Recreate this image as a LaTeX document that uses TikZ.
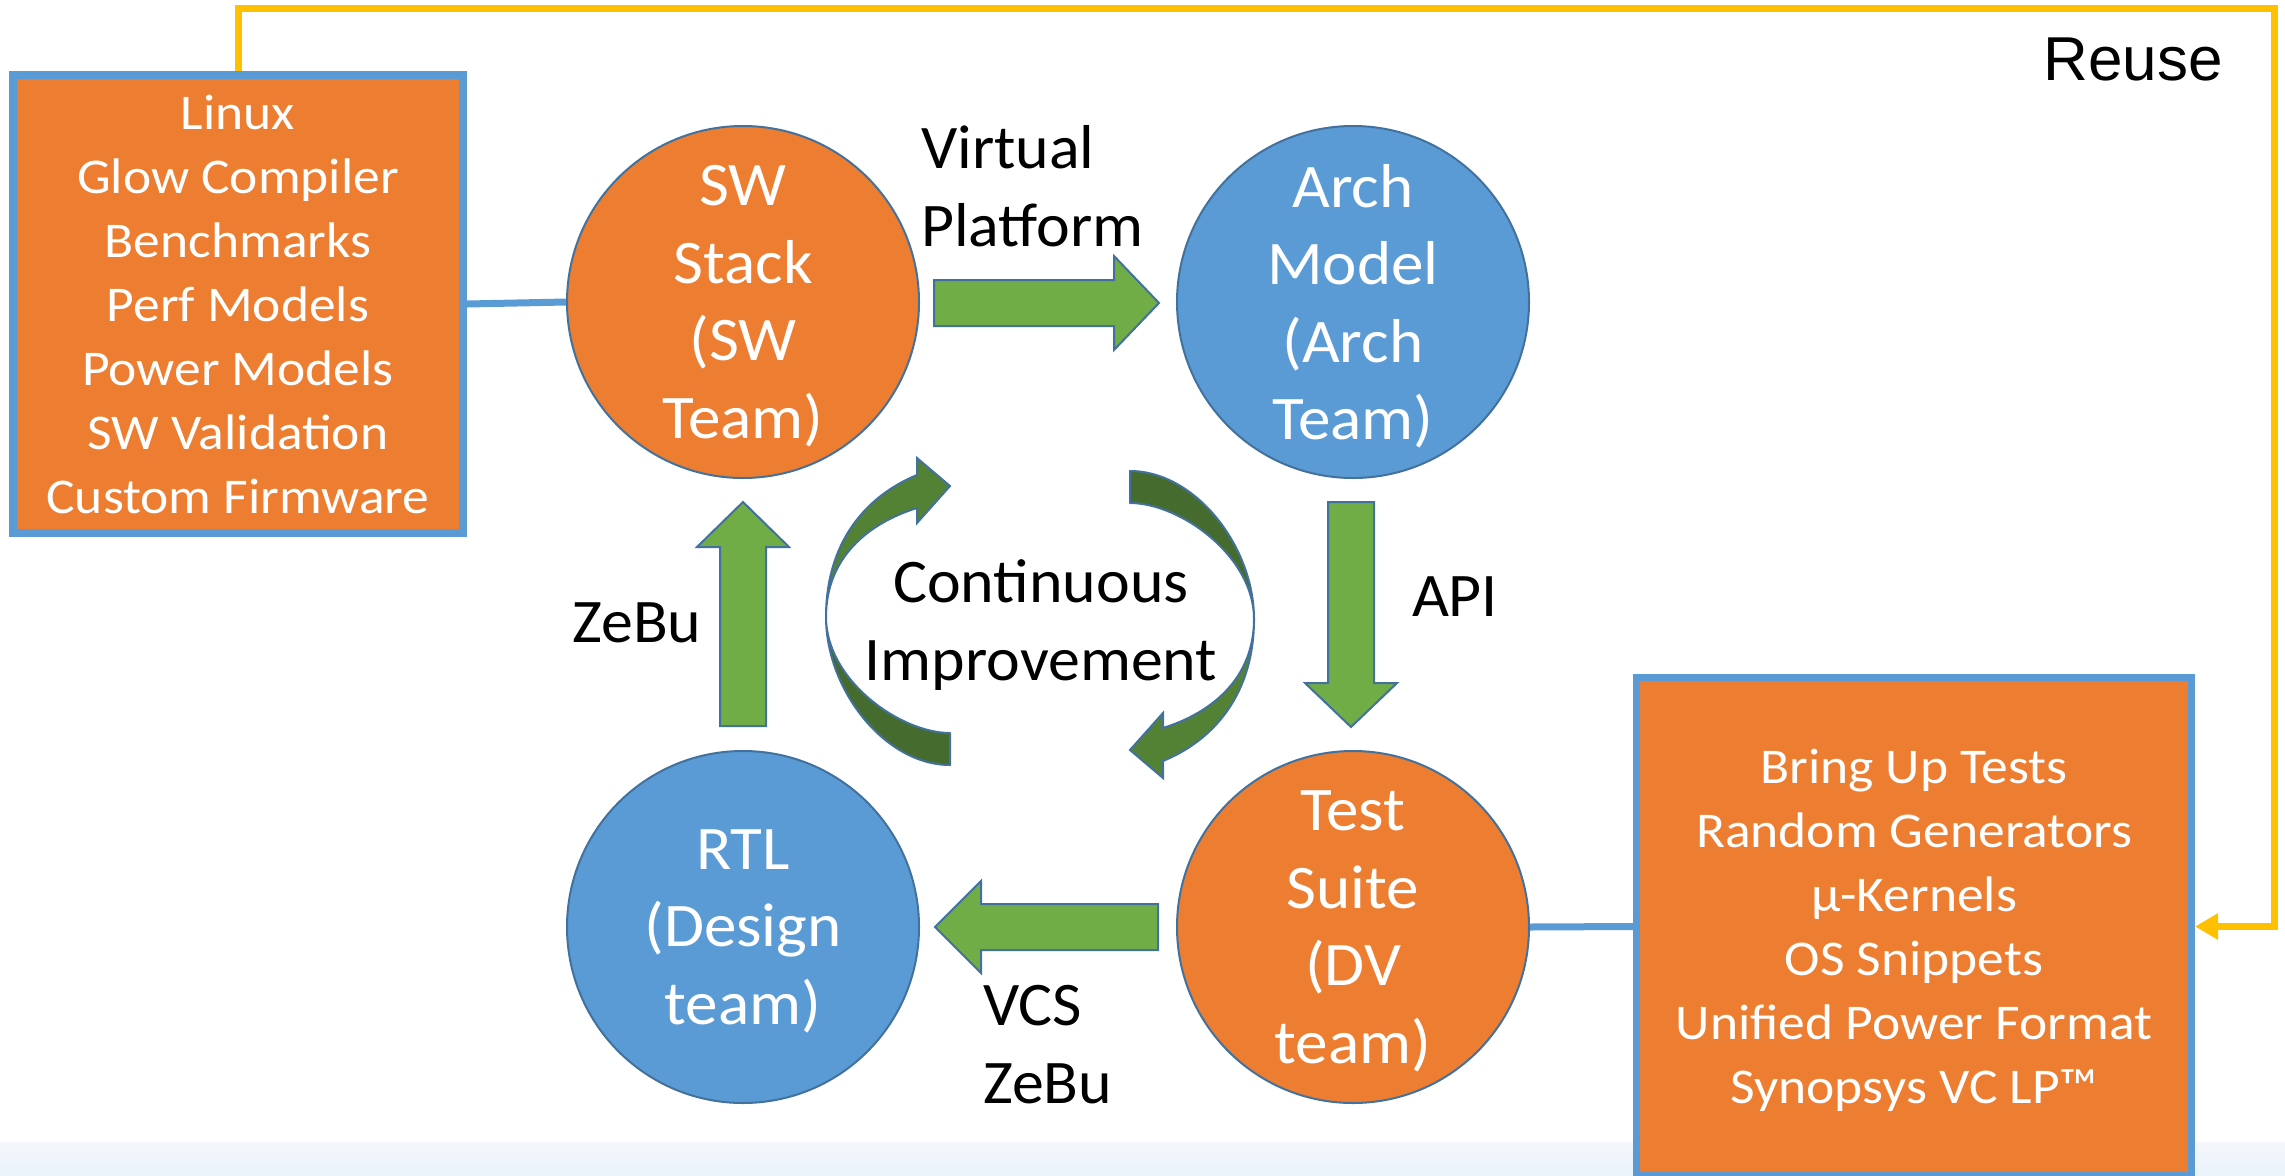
\documentclass[tikz,border=0pt]{standalone}
\usepackage{fontspec}
\setmainfont{Carlito}[FakeStretch=1.03]
\newfontfamily\boxfont{Carlito}[FakeStretch=1.07]
\newfontfamily\circfont{Carlito}[FakeStretch=1.05]
\newfontfamily\arialfont{Liberation Sans}
\usetikzlibrary{arrows.meta,calc}
\definecolor{orng}{HTML}{ED7D31}
\definecolor{lblue}{HTML}{5B9BD5}
\definecolor{dblue}{HTML}{41719C}
\definecolor{grn}{HTML}{70AD47}
\definecolor{cgl}{HTML}{548235}
\definecolor{cgd}{HTML}{466B2E}
\definecolor{gold}{HTML}{FFC000}
\definecolor{bandtop}{HTML}{F4F7FB}
\definecolor{bandbot}{HTML}{EAF3FB}
\newcommand\CIarrowshape{%
  \filldraw[fill=cgd, draw=dblue, line width=2pt, line join=round]
    (826,617) .. controls (826,690) and (885,765) .. (950,765)
    -- (950,733) .. controls (900,733) and (826,680) .. cycle;
  \filldraw[fill=cgl, draw=dblue, line width=2pt, line join=miter]
    (826,617) .. controls (826,542) and (866,496) .. (917,475)
    -- (917,458) -- (950,486) -- (917,523) -- (917,508)
    .. controls (869,523) and (826,557) .. cycle;
}
\begin{document}
\begin{tikzpicture}[x=1pt,y=-1pt,
  boxstyle/.style={draw=lblue, fill=orng, text=white, align=center,
    font=\boxfont\fontsize{50}{64}\selectfont, inner sep=0pt},
  circ/.style={circle, draw=dblue, line width=2pt, minimum size=352pt, inner sep=0pt,
    text depth=0pt, text=white, align=center, font=\circfont\fontsize{62}{77.5}\selectfont},
  lbl/.style={inner sep=0pt, text=black, font=\fontsize{62}{78}\selectfont},
  blockarrow/.style={fill=grn, draw=dblue, line width=2pt, line join=miter},
  linkline/.style={draw=lblue, line width=7pt},
  reuseline/.style={draw=gold, line width=7pt, -{Triangle[length=23pt,width=25pt]}}
]
\useasboundingbox (0,0) rectangle (2285,1175);
\shade[top color=bandtop, bottom color=bandbot] (0,1142) rectangle (2285,1175);

% boxes
\node[boxstyle, line width=8pt, minimum width=450pt, minimum height=458pt] (lbox) at (238,304)
  {Linux\\Glow Compiler\\Benchmarks\\Perf Models\\Power Models\\SW Validation\\Custom Firmware};
\node[boxstyle, line width=7pt, text depth=0pt, minimum width=555pt, minimum height=498pt] (rbox) at (1914,926.5)
  {Bring Up Tests\\Random Generators\\µ-Kernels\\OS Snippets\\Unified Power Format\\Synopsys VC LP™};

% circles
\node[circ, fill=orng] (sw) at (743,302) {SW\\Stack\\(SW\\Team)};
\node[circ, fill=lblue] (arch) at (1353,302) {Arch\\Model\\(Arch\\Team)};
\node[circ, fill=lblue] (rtl) at (743,927) {RTL\\(Design\\team)};
\node[circ, fill=orng] (test) at (1353,927) {Test\\Suite\\(DV\\team)};

% block arrows
\filldraw[blockarrow] (934,280) -- (1114,280) -- (1114,256) -- (1159,303) -- (1114,350) -- (1114,326) -- (934,326) -- cycle;
\filldraw[blockarrow] (1328,502) -- (1374,502) -- (1374,683) -- (1397,683) -- (1351,727) -- (1305,683) -- (1328,683) -- cycle;
\filldraw[blockarrow] (1158,904) -- (981,904) -- (981,881) -- (935,927) -- (981,973) -- (981,950) -- (1158,950) -- cycle;
\filldraw[blockarrow] (720,726) -- (720,547) -- (697,547) -- (743,502) -- (789,547) -- (766,547) -- (766,726) -- cycle;

% continuous improvement arrows
\CIarrowshape
\begin{scope}[rotate around={180:(1040,618)}]
\CIarrowshape
\end{scope}

% labels
\node[lbl, anchor=west, align=left] (vp) at (921,186) {Virtual\\Platform};
\node[lbl] (api) at (1455,597) {API};
\node[lbl] (zebu) at (637,623) {ZeBu};
\node[lbl, anchor=west, align=left] (vcs) at (983,1045) {VCS\\ZeBu};
\node[lbl, align=center] (ci) at (1041,625) {Continuous\\Improvement};
\node[inner sep=0pt, anchor=base, font=\arialfont\fontsize{62}{70}\selectfont] (reuse) at (2133,80) {Reuse};

% connectors
\coordinate (rtop) at (2274,8);
\draw[linkline] (lbox.east) -- (sw.west);
\draw[linkline] (test.east) -- (rbox.west);
\draw[reuseline] (lbox.north) |- (rtop) |- (rbox.east);
\end{tikzpicture}
\end{document}
